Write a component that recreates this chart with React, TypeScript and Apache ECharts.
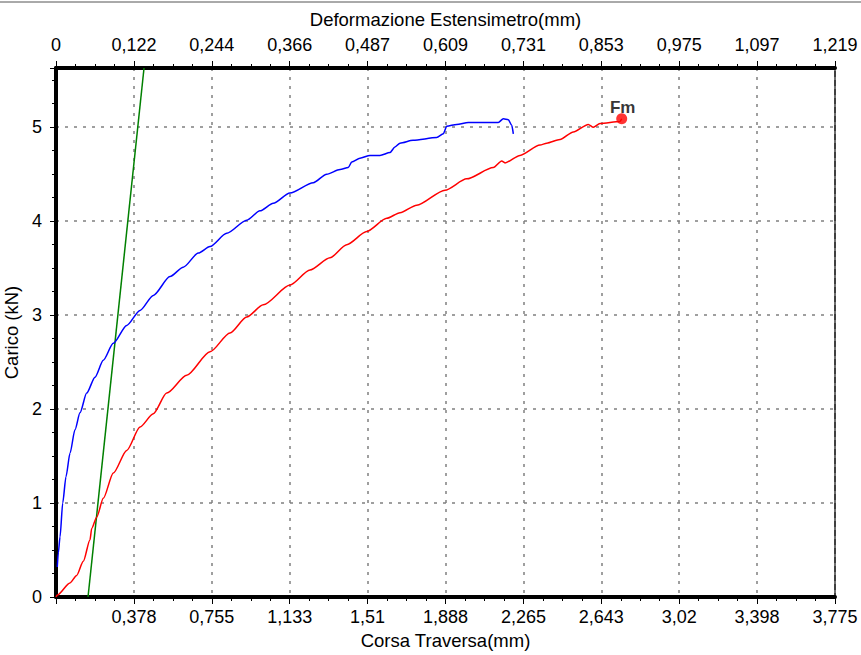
import React, { useEffect, useRef } from "react";
import * as echarts from "echarts";

// Bottom axis: Corsa Traversa (mm)
const bottomMax = 3.775;
const bottomInterval = 0.3775;
const bottomTickLabels = ["0", "0,378", "0,755", "1,133", "1,51", "1,888", "2,265", "2,643", "3,02", "3,398", "3,775"];

// Top axis: Deformazione Estensimetro (mm)
const topMax = 1.2186;
const topInterval = 0.12186;
const topTickLabels = ["0", "0,122", "0,244", "0,366", "0,487", "0,609", "0,731", "0,853", "0,975", "1,097", "1,219"];

// Y axis: Carico (kN)
const yMax = 5.63;
const yInterval = 1;

// Red curve: load vs crosshead travel (bottom axis)
const redCurve: [number, number][] = [
  [0, 0], [0.0063, 0.02], [0.0678, 0.15], [0.1003, 0.23], [0.1323, 0.38], [0.1648, 0.61],
  [0.173, 0.73], [0.1972, 0.85], [0.2292, 1.05], [0.2777, 1.32], [0.3426, 1.56], [0.4071, 1.81],
  [0.4715, 1.95], [0.5365, 2.17], [0.6334, 2.36], [0.7463, 2.61], [0.8432, 2.81], [0.9241, 2.98],
  [1.0046, 3.11], [1.134, 3.32], [1.2309, 3.48], [1.3278, 3.61], [1.4087, 3.75], [1.5057, 3.89],
  [1.6026, 4.03], [1.667, 4.09], [1.748, 4.17], [1.8851, 4.33], [1.9903, 4.45], [2.1192, 4.57],
  [2.1599, 4.64], [2.1759, 4.62], [2.2486, 4.7], [2.3455, 4.81], [2.378, 4.83], [2.4424, 4.87],
  [2.5069, 4.95], [2.5796, 5.03], [2.6038, 5.0], [2.6362, 5.04], [2.7331, 5.06], [2.7414, 5.09],
];

// Blue curve: load vs extensometer deformation (top axis)
const blueCurve: [number, number][] = [
  [0.002, 0.32], [0.0036, 0.47], [0.0063, 0.64], [0.0105, 1.0], [0.0156, 1.28], [0.0219, 1.53],
  [0.0297, 1.78], [0.0375, 1.96], [0.048, 2.17], [0.061, 2.34], [0.074, 2.52], [0.0896, 2.7],
  [0.1106, 2.89], [0.1314, 3.05], [0.1522, 3.21], [0.1783, 3.41], [0.1991, 3.51], [0.2226, 3.66],
  [0.2409, 3.73], [0.267, 3.87], [0.2983, 4.01], [0.3191, 4.11], [0.3399, 4.19], [0.366, 4.3],
  [0.4025, 4.41], [0.4235, 4.5], [0.4443, 4.55], [0.4572, 4.57], [0.4626, 4.63], [0.4755, 4.67],
  [0.4912, 4.7], [0.5068, 4.7], [0.5225, 4.73], [0.5303, 4.79], [0.5381, 4.83], [0.5585, 4.86],
  [0.5955, 4.89], [0.6059, 4.93], [0.6112, 5.01], [0.6268, 5.03], [0.645, 5.05], [0.6919, 5.05],
  [0.6997, 5.09], [0.7076, 5.08], [0.7129, 5.02], [0.7154, 4.93],
];

// Green modulus line (top axis)
const greenLine: [number, number][] = [
  [0.0501, 0], [0.1377, 5.63],
];

// Fm point (max load) on the red curve
const fmPoint: [number, number] = [2.7414, 5.09];
const fmLabel = "Fm";

const FONT = '"Liberation Sans", Arial, sans-serif';

export default function App() {
  const ref = useRef<HTMLDivElement>(null);

  useEffect(() => {
    if (!ref.current) return;
    const chart = echarts.init(ref.current, undefined, { renderer: "svg" });
    const axisLabelBase = { color: "#000", fontSize: 18, fontFamily: FONT };
    const nameBase = { color: "#000", fontSize: 18.5, fontFamily: FONT };
    chart.setOption({
      animation: false,
      backgroundColor: "#fff",
      grid: {
        left: 56, top: 68, right: 26, bottom: 58,
        containLabel: false, outerBoundsMode: "none",
        show: true, borderColor: "#000", borderWidth: 1.5, backgroundColor: "transparent",
      },
      graphic: [
        { type: "line", shape: { x1: 0, y1: 2, x2: 861, y2: 2 }, style: { stroke: "#555", lineWidth: 1 }, silent: true },
      ],
      xAxis: [
        {
          type: "value", position: "bottom", min: 0, max: bottomMax, interval: bottomInterval,
          name: "Corsa Traversa(mm)", nameLocation: "middle", nameGap: 34, nameTextStyle: nameBase,
          axisLine: { show: true, onZero: false, lineStyle: { color: "#000", width: 4 } },
          axisTick: { show: true, length: 7, lineStyle: { color: "#000", width: 1 } },
          minorTick: { show: true, splitNumber: 4, length: 4, lineStyle: { color: "#000", width: 1 } },
          axisLabel: {
            ...axisLabelBase, margin: 11, showMinLabel: false,
            formatter: (v: number) => bottomTickLabels[Math.round(v / bottomInterval)] ?? "",
          },
          splitLine: { show: true, lineStyle: { color: "#808080", width: 1.5, type: [3, 6] } },
        },
        {
          type: "value", position: "top", min: 0, max: topMax, interval: topInterval,
          name: "Deformazione Estensimetro(mm)", nameLocation: "middle", nameGap: 39, nameTextStyle: nameBase,
          axisLine: { show: true, onZero: false, lineStyle: { color: "#000", width: 4 } },
          axisTick: { show: true, length: 7, lineStyle: { color: "#000", width: 1 } },
          minorTick: { show: true, splitNumber: 4, length: 4, lineStyle: { color: "#000", width: 1 } },
          axisLabel: {
            ...axisLabelBase, margin: 14,
            formatter: (v: number) => topTickLabels[Math.round(v / topInterval)] ?? "",
          },
          splitLine: { show: false },
        },
      ],
      yAxis: [
        {
          type: "value", min: 0, max: yMax, interval: yInterval,
          name: "Carico (kN)", nameLocation: "middle", nameGap: 26, nameRotate: 90, nameTextStyle: nameBase,
          axisLine: { show: true, onZero: false, lineStyle: { color: "#000", width: 4 } },
          axisTick: { show: true, length: 6, lineStyle: { color: "#000", width: 1 } },
          minorTick: { show: true, splitNumber: 4, length: 4, lineStyle: { color: "#000", width: 1 } },
          axisLabel: { ...axisLabelBase, margin: 14, showMaxLabel: false },
          splitLine: { show: true, lineStyle: { color: "#808080", width: 1.5, type: [3, 6] } },
        },
      ],
      series: [
        {
          name: "Corsa", type: "line", xAxisIndex: 0, yAxisIndex: 0, data: redCurve,
          showSymbol: false, symbol: "none", smooth: 0.25, smoothMonotone: "x",
          lineStyle: { color: "#ff0000", width: 1.5 }, z: 3,
        },
        {
          name: "Estensimetro", type: "line", xAxisIndex: 1, yAxisIndex: 0, data: blueCurve,
          showSymbol: false, symbol: "none", smooth: 0.25, smoothMonotone: "x",
          lineStyle: { color: "#0000ff", width: 1.5 }, z: 3,
        },
        {
          name: "Modulo", type: "line", xAxisIndex: 1, yAxisIndex: 0, data: greenLine,
          showSymbol: false, symbol: "none", lineStyle: { color: "#008000", width: 1.5 }, z: 2,
        },
        {
          name: "Fm", type: "scatter", xAxisIndex: 0, yAxisIndex: 0, data: [fmPoint],
          symbol: "circle", symbolSize: 11, itemStyle: { color: "#ff0000" }, z: 5,
          label: {
            show: true, position: "top", distance: -3, offset: [1, 0],
            formatter: () => fmLabel, color: "#000", fontSize: 17, fontWeight: "bold", fontFamily: FONT,
          },
        },
      ],
    });
    return () => chart.dispose();
  }, []);

  return (
    <div
      ref={ref}
      style={{ position: "fixed", left: 0, top: 0, width: 861, height: 655, background: "#fff" }}
    />
  );
}
